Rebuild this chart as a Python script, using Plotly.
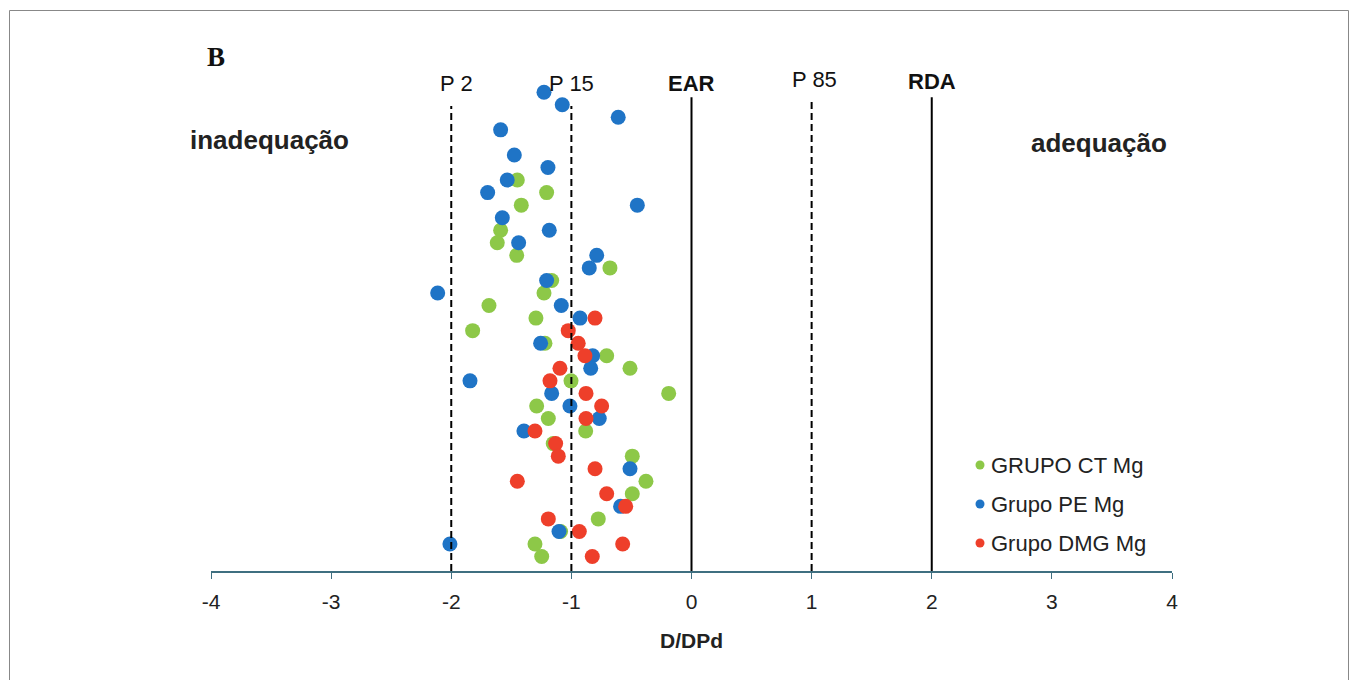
import plotly.graph_objects as go

# ---- data ----
ct_x = [-1.45, -1.206, -1.417, -1.589, -1.617, -1.455, -0.679, -1.164, -1.228, -1.686,
        -1.295, -1.822, -1.22, -0.706, -0.512, -1.003, -0.19, -1.289, -1.192, -0.881,
        -1.151, -0.493, -0.379, -0.493, -0.776, -1.09, -1.303, -1.247]
ct_y = [31, 30, 29, 27, 26, 25, 24, 23, 22, 21,
        20, 19, 18, 17, 16, 15, 14, 13, 12, 11,
        10, 9, 7, 6, 4, 3, 2, 1]

pe_x = [-1.228, -1.076, -0.61, -1.589, -1.475, -1.195, -1.534, -1.697, -0.451, -1.575,
        -1.184, -1.439, -0.789, -0.851, -1.206, -2.113, -1.084, -0.928, -1.256, -0.823,
        -0.839, -1.844, -1.164, -1.012, -0.768, -1.395, -0.512, -0.59, -1.103, -2.011]
pe_y = [38, 37, 36, 35, 33, 32, 31, 30, 29, 28,
        27, 26, 25, 24, 23, 22, 21, 20, 18, 17,
        16, 15, 14, 13, 12, 11, 8, 5, 3, 2]

dmg_x = [-0.803, -1.026, -0.943, -0.887, -1.095, -1.178, -0.878, -0.748, -0.878, -1.303,
         -1.131, -1.109, -0.803, -1.45, -0.706, -0.548, -1.192, -0.934, -0.573, -0.826]
dmg_y = [20, 19, 18, 17, 16, 15, 14, 13, 12, 11,
         10, 9, 8, 7, 6, 5, 4, 3, 2, 1]

series_names = ["GRUPO CT Mg", "Grupo PE Mg", "Grupo DMG Mg"]
series_colors = ["#8DC848", "#1F74C6", "#EE3F2A"]

ref_x = [-2, -1, 0, 1, 2]
ref_labels = ["P 2", "P 15", "EAR", "P 85", "RDA"]
ref_bold = [False, False, True, False, True]
ref_dash = [True, True, False, True, False]
ref_top = [36.9, 36.9, 37.6, 37.3, 37.6]

x_ticks = [-4, -3, -2, -1, 0, 1, 2, 3, 4]

# ---- layout geometry (page pixels; page body has an 8px margin) ----
OFF = 8
W, H = 1358, 680
ML, MR, MT = 211 - OFF, 1358 - (1172 - OFF), 69 - OFF
MB = H - (571 - OFF)
PW, PH = W - ML - MR, H - MT - MB


def px(xp):
    return (xp - OFF - ML) / PW


def py(yp):
    return (H - MB - (yp - OFF)) / PH


fig = go.Figure()
for xs, ys, name, col in zip([ct_x, pe_x, dmg_x], [ct_y, pe_y, dmg_y], series_names, series_colors):
    fig.add_trace(go.Scatter(x=xs, y=ys, mode="markers", name=name,
                             marker=dict(size=15, color=col, line=dict(width=0)),
                             showlegend=False))

shapes = []
annotations = []
FONT = "Liberation Sans, Arial, sans-serif"

label_y = [84, 84, 84, 80, 82]
label_dx = [5, 0, 0, 3, 0]
for xv, lab, b, d, top, ly, dx in zip(ref_x, ref_labels, ref_bold, ref_dash, ref_top, label_y, label_dx):
    shapes.append(dict(type="line", xref="x", yref="y", x0=xv, x1=xv, y0=-0.15, y1=top,
                       line=dict(color="black", width=2, dash="7px,4px" if d else "solid")))
    annotations.append(dict(xref="x", yref="paper", x=xv, y=py(ly), xshift=dx,
                            text=("<b>%s</b>" % lab) if b else lab,
                            showarrow=False, xanchor="center", yanchor="middle",
                            font=dict(family=FONT, size=22, color="#111")))

# panel letter and side labels
annotations.append(dict(xref="paper", yref="paper", x=px(205), y=py(57), text="<b>B</b>", showarrow=False,
                        xanchor="left", yanchor="middle",
                        font=dict(family="Liberation Serif, Times New Roman, serif", size=27, color="#111")))
annotations.append(dict(xref="paper", yref="paper", x=px(188), y=py(140), text="<b>inadequação</b>",
                        showarrow=False, xanchor="left", yanchor="middle",
                        font=dict(family=FONT, size=26, color="#222")))
annotations.append(dict(xref="paper", yref="paper", x=px(1169), y=py(143), text="<b>adequação</b>",
                        showarrow=False, xanchor="right", yanchor="middle",
                        font=dict(family=FONT, size=26, color="#222")))
annotations.append(dict(xref="paper", yref="paper", x=px(691), y=py(641), text="<b>D/DPd</b>",
                        showarrow=False, xanchor="center", yanchor="middle",
                        font=dict(family=FONT, size=21, color="#222")))

# manual legend
for i, (name, col) in enumerate(zip(series_names, series_colors)):
    yc = 465 + i * 39
    shapes.append(dict(type="circle", xref="paper", yref="paper",
                       x0=px(975.5), x1=px(984.5), y0=py(yc + 4.5), y1=py(yc - 4.5),
                       fillcolor=col, line=dict(width=0)))
    annotations.append(dict(xref="paper", yref="paper", x=px(989), y=py(yc), text=name,
                            showarrow=False, xanchor="left", yanchor="middle",
                            font=dict(family=FONT, size=22, color="#222")))

# outer frame
shapes.append(dict(type="rect", xref="paper", yref="paper", x0=px(9.5), x1=px(1348.5),
                   y0=py(720), y1=py(10.5), line=dict(color="#888", width=1), layer="below"))

fig.update_layout(
    width=W, height=H,
    margin=dict(l=ML, r=MR, t=MT, b=MB),
    paper_bgcolor="white", plot_bgcolor="white",
    showlegend=False,
    shapes=shapes, annotations=annotations,
    xaxis=dict(range=[-4, 4], tickvals=x_ticks, ticktext=[str(t) for t in x_ticks],
               showgrid=False, zeroline=False, showline=True, linecolor="#3F6F80", linewidth=2,
               ticks="outside", ticklen=6, tickcolor="#3F6F80", tickwidth=1,
               tickfont=dict(family=FONT, size=21, color="#222"), ticklabelstandoff=5),
    yaxis=dict(range=[-0.15, 39.85], visible=False, showgrid=False, zeroline=False),
)

fig.write_html("out.html")
